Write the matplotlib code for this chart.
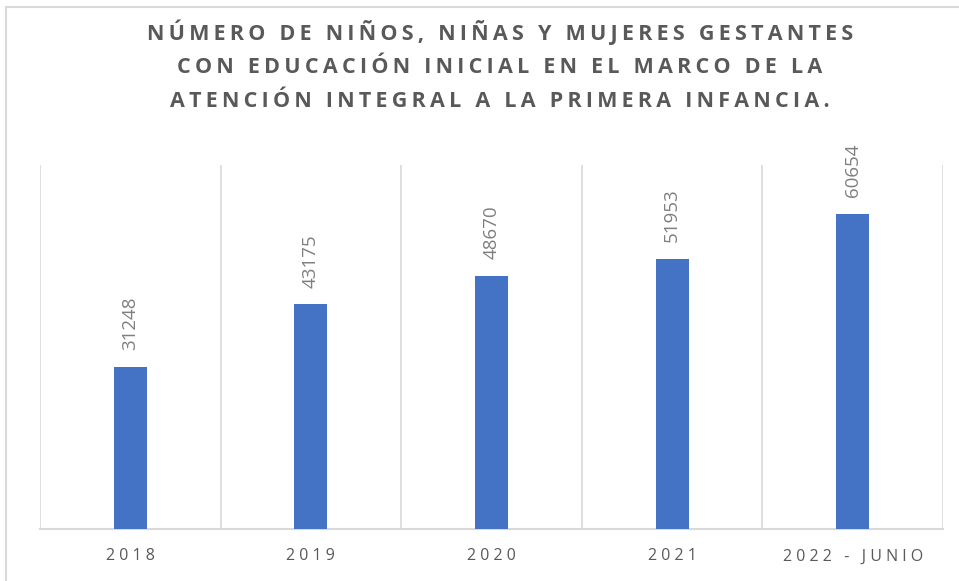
import matplotlib.pyplot as plt
from matplotlib.patches import Rectangle

categories = ['2018', '2019', '2020', '2021', '2022 - JUNIO']
values = [31248, 43175, 48670, 51953, 60654]
title_lines = ['NÚMERO DE NIÑOS, NIÑAS Y MUJERES GESTANTES',
               'CON EDUCACIÓN INICIAL EN EL MARCO DE LA',
               'ATENCIÓN INTEGRAL A LA PRIMERA INFANCIA.']

plt.rcParams['font.family'] = ['Open Sans', 'DejaVu Sans']


def spaced(s, sep='\u2009'):
    # crude letter spacing
    return sep.join(s)


fig = plt.figure(figsize=(9.59, 5.81), dpi=100)
ax = fig.add_axes([0.0417, 0.0895, 0.9416, 0.6265])

x = range(len(categories))
ax.bar(x, values, width=0.183, color='#4472C4', zorder=3)

for i, v in enumerate(values):
    ax.annotate(str(v), (i, v), xytext=(0, 12), textcoords='offset points',
                rotation=90, ha='center', va='bottom', fontsize=13.5,
                color='#7F7F7F')

# category separators
for b in [k - 0.5 for k in range(len(categories) + 1)]:
    ax.axvline(b, color='#D9D9D9', lw=1.2, zorder=1)

ax.set_xlim(-0.5, len(categories) - 0.5)
ax.set_ylim(0, 70000)
ax.set_yticks([])
ax.set_xticks(list(x))
ax.set_xticklabels([' '.join(c) for c in categories], fontsize=11.5,
                   color='#595959')
ax.tick_params(axis='x', length=0, pad=14)
for s in ['top', 'left', 'right']:
    ax.spines[s].set_visible(False)
ax.spines['bottom'].set_color('#D9D9D9')
ax.spines['bottom'].set_linewidth(1.5)

fig.text(0.521, 0.967, '\n'.join(spaced(l) for l in title_lines),
         ha='center', va='top', fontsize=15.5, fontweight='bold',
         color='#595959', linespacing=1.8)

fig.patches.append(Rectangle((0.006, -0.05), 1.1, 1.038,
                             transform=fig.transFigure, fill=False,
                             edgecolor='#D9D9D9', lw=1.5))

fig.savefig('out.png', dpi=100)
